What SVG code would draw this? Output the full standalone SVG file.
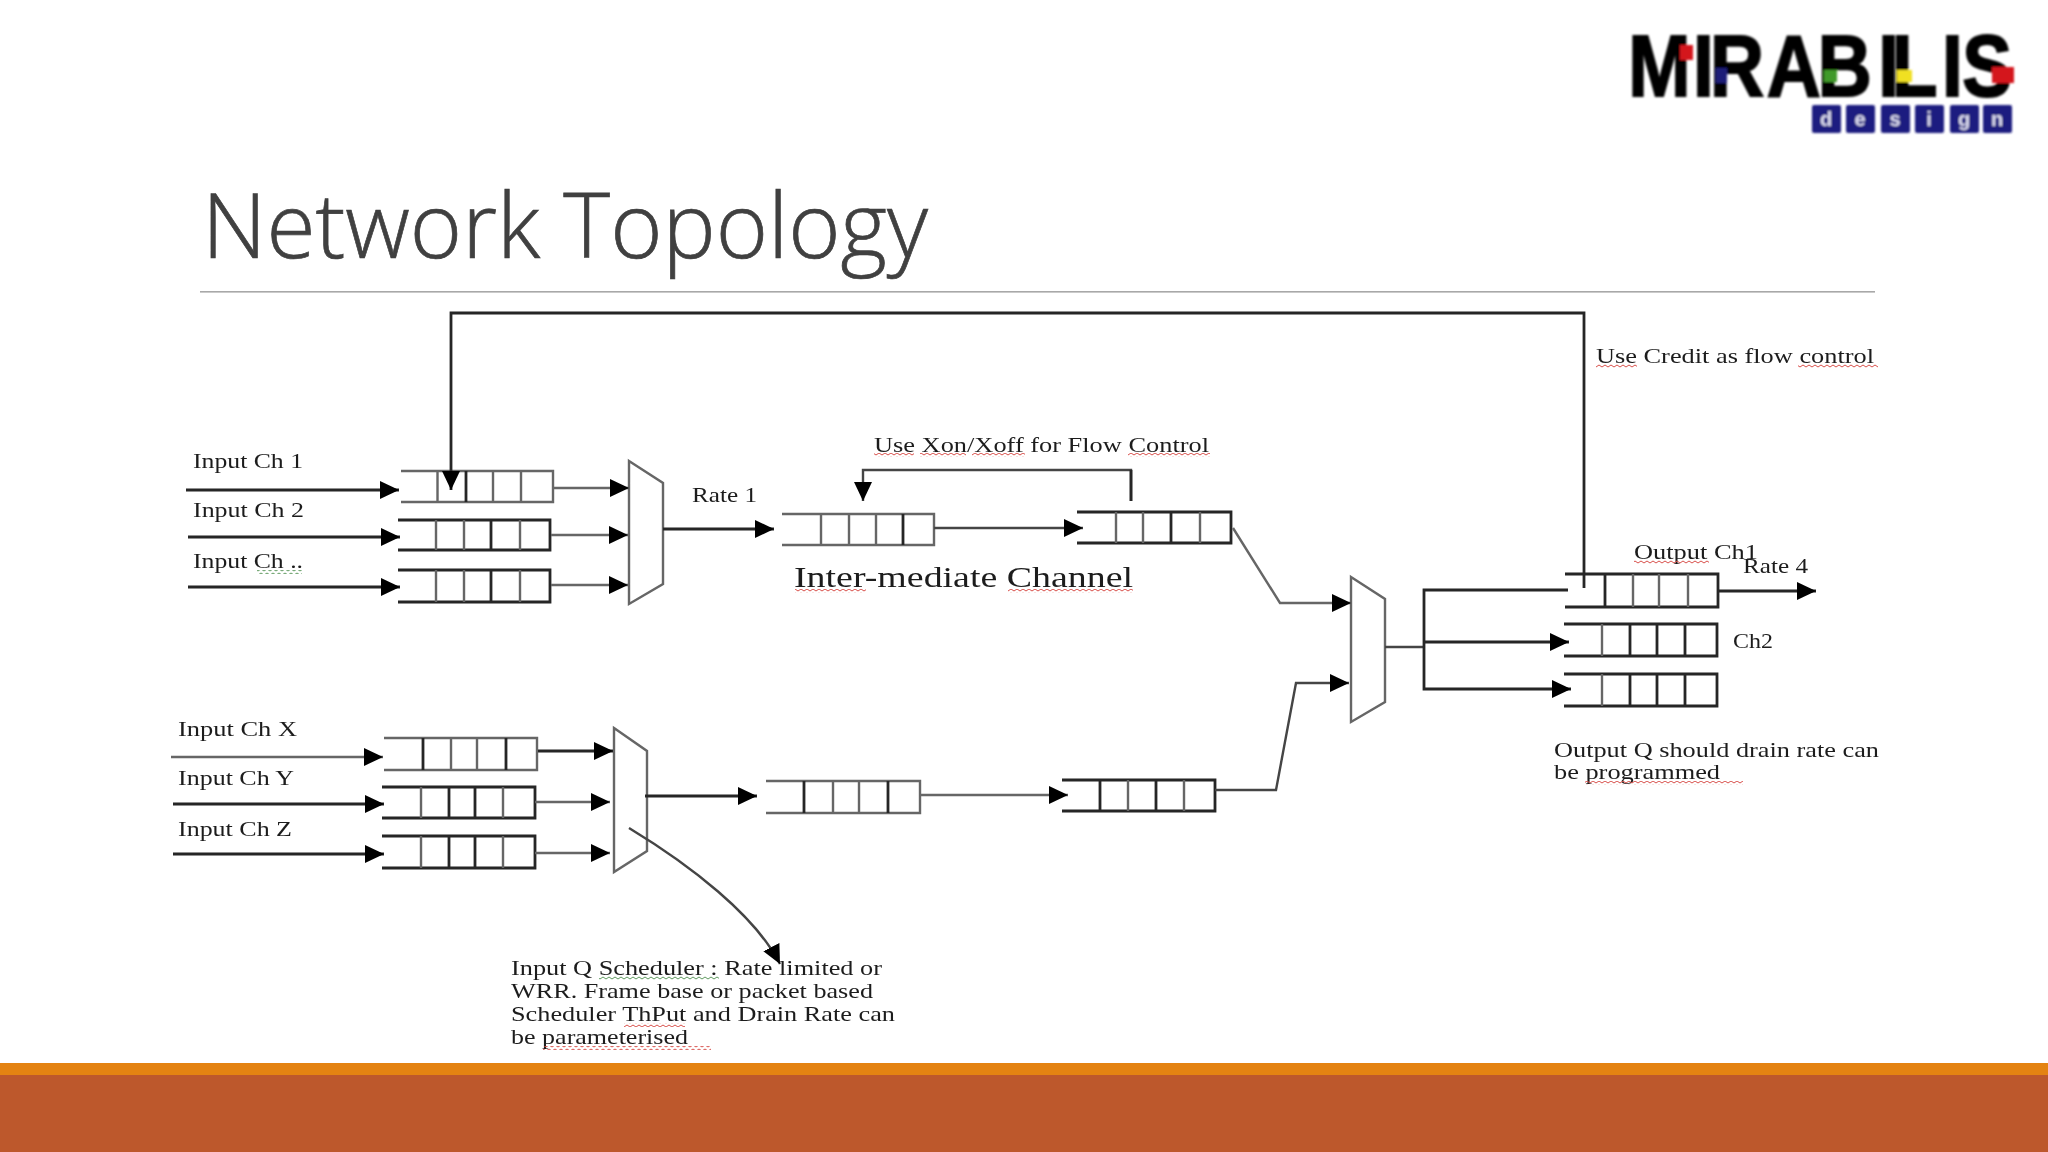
<svg xmlns="http://www.w3.org/2000/svg" width="2048" height="1152" viewBox="0 0 2048 1152">
<style>
.k{fill:none;stroke:#262626;stroke-width:2.8}
.g{fill:none;stroke:#666;stroke-width:2.4}
.m{fill:none;stroke:#444;stroke-width:2.4}
.a{marker-end:url(#arr)}
text{font-family:"Liberation Serif","Times New Roman",serif;font-size:22px;fill:#1c1c1c}
.big{font-size:29px}
.sq{height:4px}
.d{font-family:"Liberation Sans",Arial,sans-serif;font-weight:700;font-size:20px;fill:#dcdcee;text-anchor:middle}
</style>
<defs>
<marker id="arr" markerUnits="userSpaceOnUse" markerWidth="22" markerHeight="22" refX="19" refY="9" orient="auto"><path d="M0 0L19 9L0 18z" fill="#000"/></marker>
<pattern id="zr" patternUnits="userSpaceOnUse" width="6" height="4"><path d="M0 3L3 1L6 3" fill="none" stroke="#d8504a" stroke-width="1"/></pattern>
<pattern id="zg" patternUnits="userSpaceOnUse" width="6" height="4"><path d="M0 3L3 1L6 3" fill="none" stroke="#5f9a5f" stroke-width="1"/></pattern>
<filter id="soft" x="-2%" y="-2%" width="104%" height="104%"><feGaussianBlur stdDeviation="0.55"/></filter>
<filter id="soft2" x="-2%" y="-5%" width="104%" height="110%"><feGaussianBlur stdDeviation="0.8"/></filter>
</defs>
<rect width="2048" height="1152" fill="#fff"/>

<g id="title">
<text x="202" y="258" textLength="726" lengthAdjust="spacingAndGlyphs" style="font-family:'Open Sans','Liberation Sans',sans-serif;font-weight:300;font-size:90px;fill:#404040;stroke:#404040;stroke-width:.7">Network Topology</text>
<rect x="200" y="291" width="1675" height="1.6" fill="#a8a8a8"/>
</g>

<g id="logo" filter="url(#soft2)">
<text transform="translate(1630 96) scale(.85 1)" x="-2 74 94 161 221 292 308 367 391" y="0" style="font-family:'Liberation Sans',Arial,sans-serif;font-weight:700;font-size:88px;fill:#000;stroke:#000;stroke-width:2">MIRABILIS</text>
<rect x="1680" y="45" width="13" height="15" fill="#d4141c"/>
<rect x="1716" y="68" width="11" height="15" fill="#1a1a78"/>
<rect x="1824" y="70" width="13" height="12" fill="#3f9a2c"/>
<rect x="1897" y="70" width="15" height="12" fill="#f0e020"/>
<rect x="1992" y="67" width="22" height="16" fill="#d4141c"/>
<g fill="#1d1d80">
<rect x="1812" y="105" width="29" height="28" rx="2"/><rect x="1846" y="105" width="29" height="28" rx="2"/><rect x="1881" y="105" width="29" height="28" rx="2"/><rect x="1915" y="105" width="29" height="28" rx="2"/><rect x="1950" y="105" width="29" height="28" rx="2"/><rect x="1983" y="105" width="29" height="28" rx="2"/>
</g>
<text class="d" x="1826" y="126">d</text><text class="d" x="1860" y="126">e</text><text class="d" x="1895" y="126">s</text><text class="d" x="1929" y="126">i</text><text class="d" x="1964" y="126">g</text><text class="d" x="1997" y="126">n</text>
</g>

<g id="diagram" filter="url(#soft)">
<g id="queues">
<g id="q-in-1"><path class="g" d="M401 471H553V502H401M437.500 471V502M493 471V502M521 471V502"/><path class="k" d="M466 471V502"/></g>
<g id="q-in-2"><path class="k" d="M398 520H550V550H398M491 520V550"/><path class="g" d="M436 520V550M464 520V550M520 520V550"/></g>
<g id="q-in-3"><path class="k" d="M398 570H550V602H398M491 570V602"/><path class="g" d="M436 570V602M464 570V602M520 570V602"/></g>
<g id="q-mid-1"><path class="g" d="M782 514H934V545H782M821 514V545M849 514V545M876 514V545"/><path class="k" d="M903 514V545"/></g>
<g id="q-mid-2"><path class="k" d="M1077 512H1231V543H1077M1171 512V543"/><path class="g" d="M1116 512V543M1143 512V543M1200 512V543"/></g>
<g id="q-x"><path class="g" d="M384 738H537V770H384M451 738V770M477 738V770"/><path class="k" d="M423 738V770M506 738V770"/></g>
<g id="q-y"><path class="k" d="M382 787H535V818H382M449 787V818M475 787V818"/><path class="g" d="M421 787V818M503 787V818"/></g>
<g id="q-z"><path class="k" d="M382 836H535V868H382M449 836V868M475 836V868"/><path class="g" d="M421 836V868M503 836V868"/></g>
<g id="q-low-1"><path class="g" d="M766 781H920V813H766M833 781V813M859 781V813"/><path class="k" d="M804 781V813M888 781V813"/></g>
<g id="q-low-2"><path class="k" d="M1062 780H1215V811H1062M1100 780V811M1156 780V811"/><path class="g" d="M1128 780V811M1184 780V811"/></g>
<g id="q-out-1"><path class="k" d="M1565 574H1718V607H1565M1605 574V607"/><path class="g" d="M1633 574V607M1659 574V607M1688 574V607"/></g>
<g id="q-out-2"><path class="k" d="M1564 624H1717V656H1564M1630 624V656M1657 624V656M1685 624V656"/><path class="g" d="M1602 624V656"/></g>
<g id="q-out-3"><path class="k" d="M1564 674H1717V706H1564M1630 674V706M1657 674V706M1685 674V706"/><path class="g" d="M1602 674V706"/></g>
</g>

<g id="muxes">
<g id="mux-top"><path class="g" d="M629 461L663 483V584L629 604Z"/></g>
<g id="mux-low"><path class="g" d="M614 728L647 751V851L614 872Z"/></g>
<g id="mux-out"><path class="g" d="M1351 577L1385 599V702L1351 722Z"/></g>
</g>

<g id="connectors">
<path class="k a" d="M186 490H399"/>
<path class="k a" d="M188 537H400"/>
<path class="k a" d="M188 587H400"/>
<path class="g a" d="M554 488H629"/>
<path class="g a" d="M551 535H628"/>
<path class="g a" d="M551 585H628"/>
<path class="k a" d="M663 529H774"/>
<path class="m a" d="M934 528H1083"/>
<path class="m a" d="M1131 501V470H863V501"/>
<path class="k" d="M1131 470V501"/>
<path class="k a" d="M1584 588V313H451V490"/>
<path class="g a" d="M1233 528L1280 603H1351"/>
<path class="m a" d="M1215 790H1276L1296 683H1349"/>
<path class="m" d="M1385 647H1424"/>
<path class="k a" d="M1568 590H1424V689H1571"/>
<path class="k a" d="M1424 642H1569"/>
<path class="k a" d="M1718 591H1816"/>
<path class="g a" d="M171 757H383"/>
<path class="k a" d="M173 804H384"/>
<path class="k a" d="M173 854H384"/>
<path class="k a" d="M538 751H613"/>
<path class="g a" d="M535 802H610"/>
<path class="g a" d="M535 853H610"/>
<path class="k a" d="M645 796H757"/>
<path class="g a" d="M920 795H1068"/>
<path class="m a" d="M629 828C690 865 755 915 780 964"/>
</g>

<g id="labels">
<text x="193" y="468" textLength="110" lengthAdjust="spacingAndGlyphs">Input Ch 1</text>
<text x="193" y="517" textLength="111" lengthAdjust="spacingAndGlyphs">Input Ch 2</text>
<text x="193" y="568" textLength="110" lengthAdjust="spacingAndGlyphs">Input Ch ..</text>
<text x="692" y="502" textLength="65" lengthAdjust="spacingAndGlyphs">Rate 1</text>
<text x="874" y="452" textLength="335" lengthAdjust="spacingAndGlyphs">Use Xon/Xoff for Flow Control</text>
<text class="big" x="794" y="587" textLength="339" lengthAdjust="spacingAndGlyphs">Inter-mediate Channel</text>
<text x="1596" y="363" textLength="278" lengthAdjust="spacingAndGlyphs">Use Credit as flow control</text>
<text x="1634" y="559" textLength="124" lengthAdjust="spacingAndGlyphs">Output Ch1</text>
<text x="1743" y="573" textLength="65" lengthAdjust="spacingAndGlyphs">Rate 4</text>
<text x="1733" y="648" textLength="40" lengthAdjust="spacingAndGlyphs">Ch2</text>
<text x="1554" y="757" textLength="325" lengthAdjust="spacingAndGlyphs">Output Q should drain rate can</text>
<text x="1554" y="779" textLength="166" lengthAdjust="spacingAndGlyphs">be programmed</text>
<text x="178" y="736" textLength="119" lengthAdjust="spacingAndGlyphs">Input Ch X</text>
<text x="178" y="785" textLength="116" lengthAdjust="spacingAndGlyphs">Input Ch Y</text>
<text x="178" y="836" textLength="114" lengthAdjust="spacingAndGlyphs">Input Ch Z</text>
<text x="511" y="975" textLength="371" lengthAdjust="spacingAndGlyphs">Input Q Scheduler : Rate limited or</text>
<text x="511" y="998" textLength="362" lengthAdjust="spacingAndGlyphs">WRR. Frame base or packet based</text>
<text x="511" y="1021" textLength="384" lengthAdjust="spacingAndGlyphs">Scheduler ThPut and Drain Rate can</text>
<text x="511" y="1044" textLength="177" lengthAdjust="spacingAndGlyphs">be parameterised</text>
<g id="squiggles">
<rect class="sq" x="257" y="570" width="45" height="4" fill="url(#zg)"/>
<rect class="sq" x="874" y="453" width="40" height="4" fill="url(#zr)"/>
<rect class="sq" x="920" y="453" width="46" height="4" fill="url(#zr)"/>
<rect class="sq" x="972" y="453" width="53" height="4" fill="url(#zr)"/>
<rect class="sq" x="1128" y="453" width="82" height="4" fill="url(#zr)"/>
<rect class="sq" x="795" y="589" width="71" height="4" fill="url(#zr)"/>
<rect class="sq" x="1008" y="589" width="125" height="4" fill="url(#zr)"/>
<rect class="sq" x="1596" y="364" width="41" height="4" fill="url(#zr)"/>
<rect class="sq" x="1798" y="364" width="80" height="4" fill="url(#zr)"/>
<rect class="sq" x="1634" y="560" width="75" height="4" fill="url(#zr)"/>
<rect class="sq" x="1585" y="781" width="158" height="4" fill="url(#zr)"/>
<rect class="sq" x="599" y="976" width="120" height="4" fill="url(#zg)"/>
<rect class="sq" x="624" y="1023" width="61" height="4" fill="url(#zr)"/>
<rect class="sq" x="543" y="1046" width="168" height="4" fill="url(#zr)"/>
</g>
</g>
</g>

<g id="footer">
<rect x="0" y="1063" width="2048" height="12" fill="#e48312"/>
<rect x="0" y="1075" width="2048" height="77" fill="#bd582c"/>
</g>
</svg>
